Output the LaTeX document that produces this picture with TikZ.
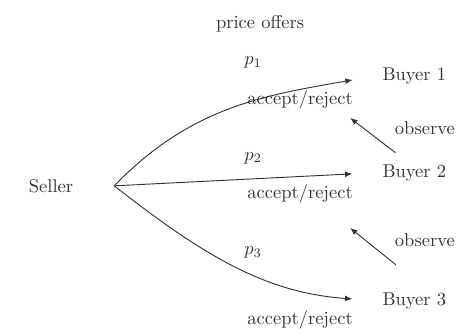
\documentclass[tikz,border=0pt]{standalone}
\usepackage{tikz}
\usetikzlibrary{arrows.meta,positioning,calc}
\begin{document}
\begin{tikzpicture}[>={Latex[length=1.4mm,width=1.1mm]},font=\normalsize,color=black!80]
\tikzstyle{lbl}=[inner sep=1pt]
\tikzstyle{off}=[->,line width=0.5pt,shorten >=0.45cm]
\useasboundingbox (0,0) rectangle (8.70,6.38);
\node (title) at (4.94,5.93) {price offers};
\node (seller) at (0.97,2.85) {Seller}; \coordinate (s) at (2.17,2.85);
\node (b1) at (7.87,4.94) {Buyer 1}; \node (b2) at (7.87,3.10) {Buyer 2}; \node (b3) at (7.87,0.67) {Buyer 3};
\draw[off] (s) to[out=46,in=190] (b1.west);
\draw[off] (s) -- (b2.west);
\draw[off] (s) to[out=-38,in=176] (b3.west);
\node[lbl] (p1) at (4.81,5.19) {$p_1$}; \node[lbl] (p2) at (4.81,3.38) {$p_2$}; \node[lbl] (p3) at (4.81,1.58) {$p_3$};
\node[lbl] (a1) at (5.70,4.48) {accept/reject}; \node[lbl] (a2) at (5.70,2.70) {accept/reject}; \node[lbl] (a3) at (5.70,0.30) {accept/reject};
% observation arrows
\coordinate (o1s) at (7.51,3.48); \coordinate (o1e) at (6.65,4.14);
\coordinate (o2s) at (7.52,1.35); \coordinate (o2e) at (6.65,2.05);
\draw[->,line width=0.5pt] (o1s) -- (o1e); \draw[->,line width=0.5pt] (o2s) -- (o2e);
\node[lbl,anchor=east] (obs1) at (8.68,3.95) {observe}; \node[lbl,anchor=east] (obs2) at (8.68,1.82) {observe};
\end{tikzpicture}
\end{document}
